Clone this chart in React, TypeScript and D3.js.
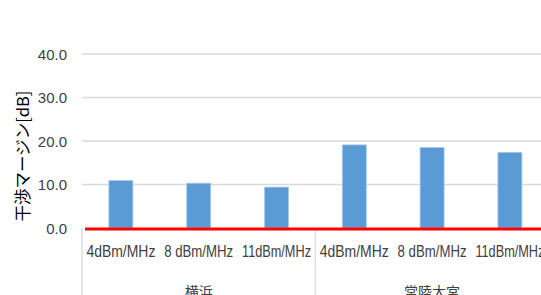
import { useEffect, useRef } from "react";
import * as d3 from "d3";

const W = 541;
const H = 295;
const M = { top: 54, left: 82, bottom: 228 };

const groups = ["横浜", "常陸大宮"];
const levels = ["4dBm/MHz", "8 dBm/MHz", "11dBm/MHz"];
const margin = [10.9, 10.3, 9.4, 19.1, 18.5, 17.4];
const yTicks = [0, 10, 20, 30, 40];

const SANS = "'Liberation Sans', Arial, sans-serif";
const JP = "'Noto Sans CJK JP', sans-serif";

export default function App() {
  const ref = useRef<SVGSVGElement>(null);

  useEffect(() => {
    const svg = d3.select(ref.current);
    svg.selectAll("*").remove();

    const cats = groups.flatMap((g) => levels.map((l) => `${g}|${l}`));
    const data = cats.map((c, i) => ({ key: c, group: c.split("|")[0], level: c.split("|")[1], v: margin[i] }));

    const x = d3.scaleBand().domain(cats).range([M.left, M.left + 6 * 77.8]).paddingInner(0).paddingOuter(0);
    const y = d3.scaleLinear().domain([0, 40]).range([M.bottom, M.top]);

    // gridlines
    svg
      .append("g")
      .selectAll("line")
      .data(yTicks.filter((t) => t > 0))
      .enter()
      .append("line")
      .attr("x1", M.left)
      .attr("x2", W)
      .attr("y1", (d) => y(d))
      .attr("y2", (d) => y(d))
      .attr("stroke", "#d9d9d9")
      .attr("stroke-width", 1.3);

    // y tick labels
    svg
      .append("g")
      .selectAll("text")
      .data(yTicks)
      .enter()
      .append("text")
      .attr("x", 67)
      .attr("y", (d) => y(d) + 5.5)
      .attr("text-anchor", "end")
      .style("font-family", SANS)
      .style("font-size", "15px")
      .style("fill", "#404040")
      .text((d) => d.toFixed(1));

    // y axis title
    svg
      .append("text")
      .attr("transform", `translate(29,156) rotate(-90)`)
      .attr("text-anchor", "middle")
      .style("font-family", JP)
      .style("font-size", "16.5px")
      .style("fill", "#000")
      .text("干渉マージン[dB]");

    // bars
    const bw = 24;
    svg
      .append("g")
      .selectAll("rect")
      .data(data)
      .enter()
      .append("rect")
      .attr("x", (d) => x(d.key)! + x.bandwidth() / 2 - bw / 2)
      .attr("y", (d) => y(d.v))
      .attr("width", bw)
      .attr("height", (d) => y(0) - y(d.v))
      .attr("fill", "#5b9bd5")
      .attr("stroke", "#a9c9ec")
      .attr("stroke-width", 0.8);

    // category axis boxes
    const seps = [0, 3, 6].map((i) => (i < 6 ? x(cats[i])! : x(cats[5])! + x.bandwidth()));
    svg
      .append("g")
      .selectAll("line")
      .data(seps)
      .enter()
      .append("line")
      .attr("x1", (d) => d)
      .attr("x2", (d) => d)
      .attr("y1", y(0))
      .attr("y2", H)
      .attr("stroke", "#d9d9d9")
      .attr("stroke-width", 1.3);

    // red baseline
    svg
      .append("line")
      .attr("x1", M.left + 3)
      .attr("x2", W)
      .attr("y1", y(0) + 1)
      .attr("y2", y(0) + 1)
      .attr("stroke", "#ff0000")
      .attr("stroke-width", 3);

    // level labels
    svg
      .append("g")
      .selectAll("text")
      .data(data)
      .enter()
      .append("text")
      .attr("x", (d) => x(d.key)! + x.bandwidth() / 2)
      .attr("y", 257)
      .attr("text-anchor", "middle")
      .attr("textLength", 69)
      .attr("lengthAdjust", "spacingAndGlyphs")
      .style("font-family", SANS)
      .style("font-size", "16px")
      .style("fill", "#404040")
      .text((d) => d.level);

    // group labels
    svg
      .append("g")
      .selectAll("text")
      .data(groups)
      .enter()
      .append("text")
      .attr("x", (g, i) => (seps[i] + seps[i + 1]) / 2)
      .attr("y", 297)
      .attr("text-anchor", "middle")
      .style("font-family", JP)
      .style("font-size", "14px")
      .style("fill", "#404040")
      .text((g) => g);
  }, []);

  return (
    <svg
      ref={ref}
      width={W}
      height={H}
      style={{ position: "absolute", left: 0, top: 0, background: "#fff" }}
    />
  );
}
